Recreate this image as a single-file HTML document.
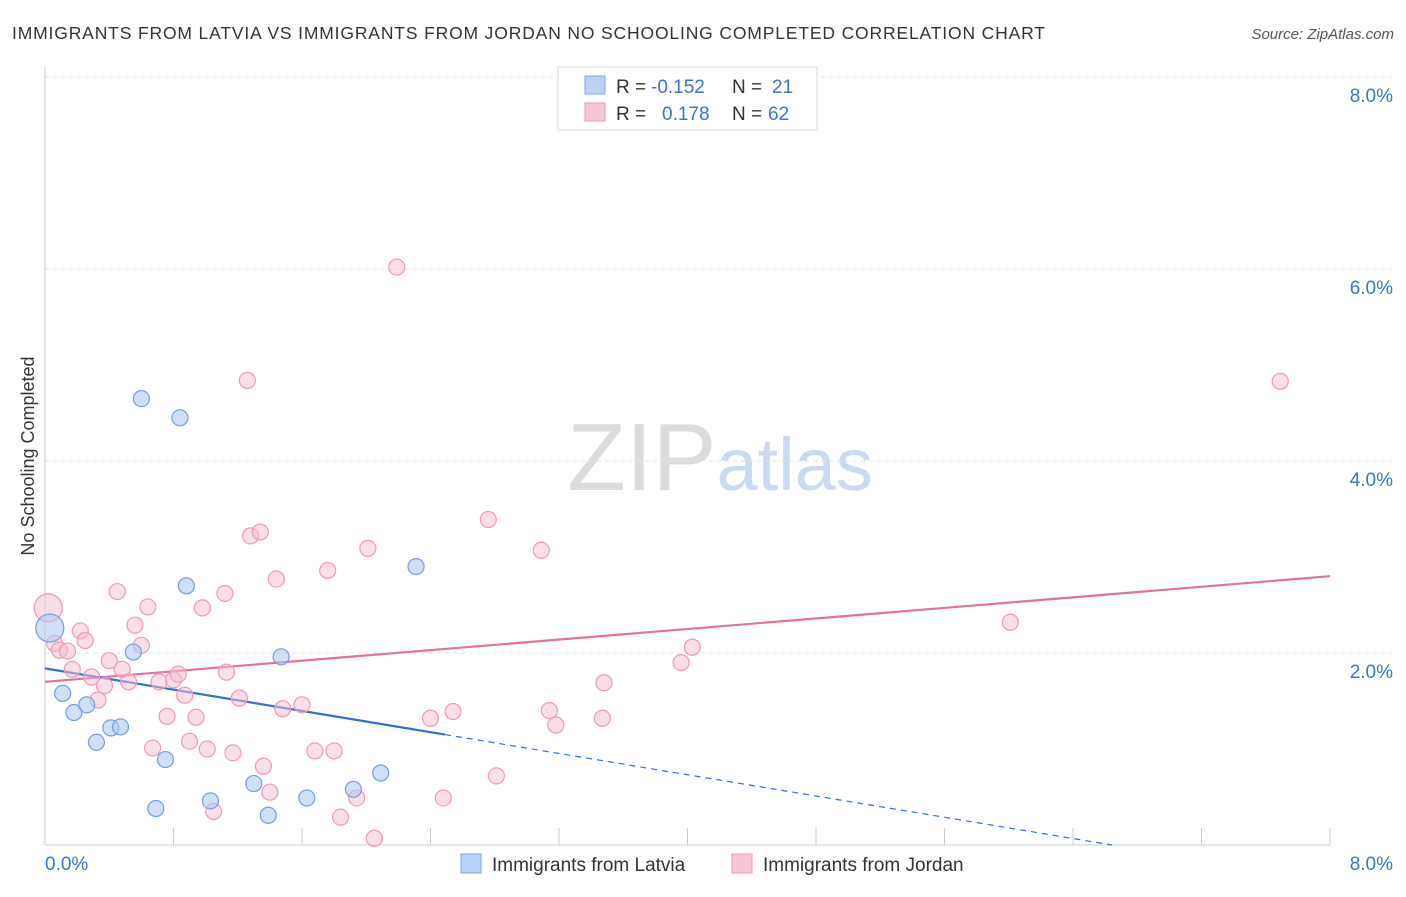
<!DOCTYPE html>
<html><head><meta charset="utf-8"><style>
body{margin:0;background:#fff;font-family:"Liberation Sans",sans-serif;}
svg text{font-family:"Liberation Sans",sans-serif;}
</style></head><body>
<svg id="chart" width="1406" height="892" xmlns="http://www.w3.org/2000/svg">
<text x="12" y="39" font-size="17.5" fill="#333" textLength="1033" lengthAdjust="spacing">IMMIGRANTS FROM LATVIA VS IMMIGRANTS FROM JORDAN NO SCHOOLING COMPLETED CORRELATION CHART</text>
<text x="1394" y="39" font-size="15" fill="#555" text-anchor="end" font-style="italic">Source: ZipAtlas.com</text>
<text x="720" y="490" font-size="96" text-anchor="middle" fill="#d6d6d6" font-family="Liberation Serif"><tspan fill="#dcdcdc">ZIP</tspan><tspan fill="#c9daf2" font-family="Liberation Sans" font-size="74">atlas</tspan></text>
<text transform="translate(34,456) rotate(-90)" font-size="18" fill="#333" text-anchor="middle">No Schooling Completed</text>
<g id="grid"></g><g id="lines"></g><g id="pts"></g>
<g>
<rect x="558" y="67" width="259" height="63" fill="#fff" stroke="#ddd"/>
<rect x="585" y="76" width="20" height="18" fill="#b8d3f5" stroke="#7aa6e0"/>
<rect x="585" y="103" width="20" height="18" fill="#f9c6d6" stroke="#ee9ab5"/>
<text x="616" y="93" font-size="19" fill="#333">R =</text>
<text x="651" y="93" font-size="19" fill="#3a73d6">-0.152</text>
<text x="732" y="93" font-size="19" fill="#333">N =</text>
<text x="772" y="93" font-size="19" fill="#3a73d6">21</text>
<text x="616" y="120" font-size="19" fill="#333">R =</text>
<text x="662" y="120" font-size="19" fill="#3a73d6">0.178</text>
<text x="732" y="120" font-size="19" fill="#333">N =</text>
<text x="768" y="120" font-size="19" fill="#3a73d6">62</text>
</g>
<g>
<rect x="461" y="854" width="20" height="19" fill="#b8d3f5" stroke="#7aa6e0"/>
<text x="492" y="871" font-size="19" fill="#333">Immigrants from Latvia</text>
<rect x="732" y="854" width="20" height="19" fill="#f9c6d6" stroke="#ee9ab5"/>
<text x="763" y="871" font-size="19" fill="#333">Immigrants from Jordan</text>
</g>
</svg>
<script>
const latviaX=[0.03,0.11,0.18,0.26,0.32,0.41,0.47,0.55,0.60,0.69,0.75,0.84,0.88,1.03,1.30,1.39,1.47,1.63,1.92,2.09,2.31];
const latviaY=[2.26,1.58,1.38,1.46,1.07,1.22,1.23,2.01,4.65,0.38,0.89,4.45,2.70,0.46,0.64,0.31,1.96,0.49,0.58,0.75,2.90];
const jordanX=[0.02,0.06,0.09,0.14,0.17,0.22,0.25,0.29,0.33,0.37,0.40,0.45,0.48,0.52,0.56,0.60,0.64,0.67,0.71,0.76,0.80,0.83,0.87,0.90,0.94,0.98,1.01,1.05,1.13,1.17,1.21,1.26,1.28,1.34,1.36,1.40,1.44,1.48,1.60,1.68,1.76,1.80,1.84,1.94,2.01,2.05,2.19,2.40,2.48,2.54,2.76,2.81,3.09,3.14,3.18,3.47,3.48,3.96,4.03,6.01,7.69,1.12];
const jordanY=[2.47,2.10,2.03,2.02,1.83,2.23,2.13,1.75,1.51,1.66,1.92,2.64,1.83,1.70,2.29,2.08,2.48,1.01,1.70,1.34,1.72,1.78,1.56,1.08,1.33,2.47,1.00,0.35,1.80,0.96,1.53,4.84,3.22,3.26,0.82,0.55,2.77,1.42,1.46,0.98,2.86,0.98,0.29,0.49,3.09,0.07,6.02,1.32,0.49,1.39,3.39,0.72,3.07,1.40,1.25,1.32,1.69,1.90,2.06,2.32,4.83,2.62];
const yTicks=[2,4,6,8];
const trendLatvia=[1.84,-0.277];
const trendJordan=[1.70,0.1375];
const X=v=>45+v/8*1285, Y=v=>845-v*96;
const NS="http://www.w3.org/2000/svg";
function mk(p,t,a){const e=document.createElementNS(NS,t);for(const k in a)e.setAttribute(k,a[k]);p.appendChild(e);return e;}
const g=document.getElementById('grid');
yTicks.forEach(t=>{
 const l=mk(g,'line',{x1:45,x2:1393,y1:Y(t),y2:Y(t),stroke:'#e3e3e3','stroke-dasharray':'4,4'});
 
 
 const tx=mk(g,'text',{x:1393,y:Y(t)+25,'font-size':19,fill:'#3a73d6','text-anchor':'end'});tx.textContent=t.toFixed(1)+'%';
 
 
});
mk(g,'line',{x1:45,x2:45,y1:67,y2:845,stroke:'#ccc'});
mk(g,'line',{x1:45,x2:1330,y1:845,y2:845,stroke:'#ccc'});
for(let i=0;i<=10;i++){mk(g,'line',{x1:X(i*0.8),x2:X(i*0.8),y1:828,y2:845,stroke:'#ccc'});}
const a0=mk(g,'text',{x:45,y:870,'font-size':19,fill:'#3a73d6'});a0.textContent='0.0%';


const a1=mk(g,'text',{x:1393,y:870,'font-size':19,fill:'#3a73d6','text-anchor':'end'});a1.textContent='8.0%';


const L=document.getElementById('lines');
const jl=mk(L,'line',{x1:X(0),y1:Y(trendJordan[0]),x2:X(8),y2:Y(trendJordan[0]+8*trendJordan[1]),stroke:'#e8709a','stroke-width':2.2});


const xe=Math.max(...latviaX)+0.18, x0=-trendLatvia[0]/trendLatvia[1];
const ls=mk(L,'line',{x1:X(0),y1:Y(trendLatvia[0]),x2:X(xe),y2:Y(trendLatvia[0]+xe*trendLatvia[1]),stroke:'#2f6fd8','stroke-width':2.2});


const ld=mk(L,'line',{x1:X(xe),y1:Y(trendLatvia[0]+xe*trendLatvia[1]),x2:X(x0),y2:Y(0),stroke:'#2f6fd8','stroke-width':1.2,'stroke-dasharray':'6,5'});


const P=document.getElementById('pts');
jordanX.forEach((x,i)=>{const c=mk(P,'circle',{cx:X(x),cy:Y(jordanY[i]),r:i==0?14:8,fill:'rgba(248,190,208,0.5)',stroke:'#ee9ab5','stroke-width':1.2});
 
 });
latviaX.forEach((x,i)=>{const c=mk(P,'circle',{cx:X(x),cy:Y(latviaY[i]),r:i==0?14:8,fill:'rgba(170,200,240,0.55)',stroke:'#6f9fe0','stroke-width':1.2});
 
 });
</script>
</body></html>
